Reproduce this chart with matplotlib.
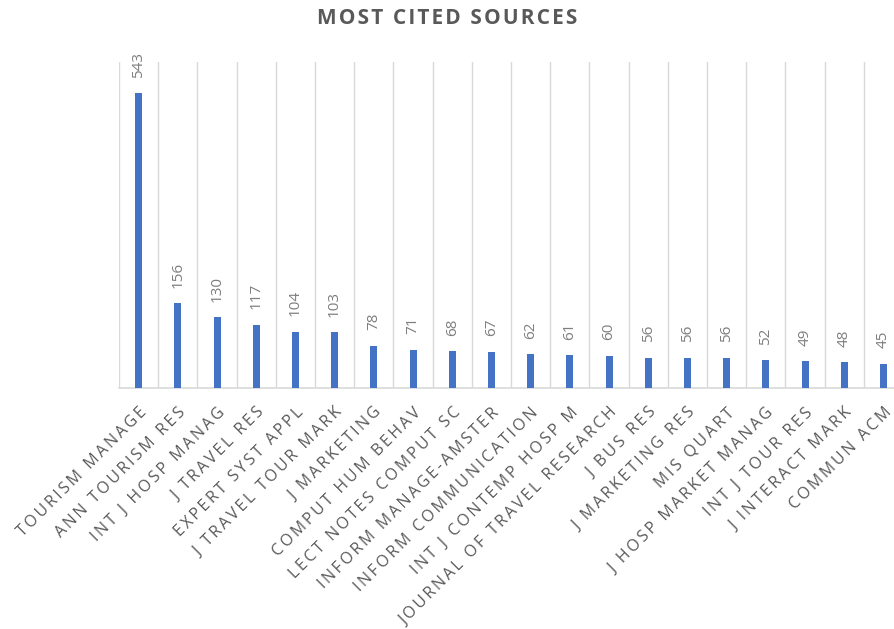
import numpy as np
import matplotlib
matplotlib.use("Agg")
import matplotlib.pyplot as plt

sources = ["TOURISM MANAGE", "ANN TOURISM RES", "INT J HOSP MANAG", "J TRAVEL RES",
           "EXPERT SYST APPL", "J TRAVEL TOUR MARK", "J MARKETING", "COMPUT HUM BEHAV",
           "LECT NOTES COMPUT SC", "INFORM MANAGE-AMSTER", "INFORM COMMUNICATION",
           "INT J CONTEMP HOSP M", "JOURNAL OF TRAVEL RESEARCH", "J BUS RES",
           "J MARKETING RES", "MIS QUART", "J HOSP MARKET MANAG", "INT J TOUR RES",
           "J INTERACT MARK", "COMMUN ACM"]
citations = [543, 156, 130, 117, 104, 103, 78, 71, 68, 67, 62, 61, 60, 56, 56, 56, 52, 49, 48, 45]

plt.rcParams['font.family'] = ['Open Sans', 'DejaVu Sans']
grey = "#595959"


def spaced(s, gap="\u2009"):
    # crude letter spacing, Excel draws these caps spread out
    return gap.join(s)


fig = plt.figure(figsize=(8.95, 6.29), dpi=100)
ax = fig.add_axes([0.133, 0.383, 0.876, 0.518])

x = np.arange(len(sources))
ax.bar(x, citations, width=0.18, color="#4472c4", zorder=3)

for xi, v in zip(x, citations):
    ax.annotate(str(v), (xi, v), xytext=(0, 11), textcoords="offset points",
                rotation=90, ha="center", va="bottom", fontsize=11, color="#7f7f7f")

ax.set_xlim(-0.5, len(sources) - 0.5)
ax.set_ylim(0, 600)
ax.set_xticks(x)
ax.set_xticklabels([spaced(s) for s in sources], rotation=45, ha="right",
                   rotation_mode="anchor", fontsize=11.5, color=grey)
ax.set_xticks(np.arange(-0.5, len(sources)), minor=True)
ax.tick_params(axis="x", which="both", length=0, pad=12)
ax.grid(axis="x", which="minor", color="#d9d9d9", lw=1, zorder=0)
ax.set_yticks([])
for s in ["top", "left", "right"]:
    ax.spines[s].set_visible(False)
ax.spines["bottom"].set_color("#d9d9d9")
ax.spines["bottom"].set_linewidth(1.2)

fig.text(0.5, 0.97, spaced("MOST CITED SOURCES", "\u200a"), ha="center", va="center",
         fontsize=15, fontweight="bold", color=grey)

fig.savefig("out.png", dpi=100)
